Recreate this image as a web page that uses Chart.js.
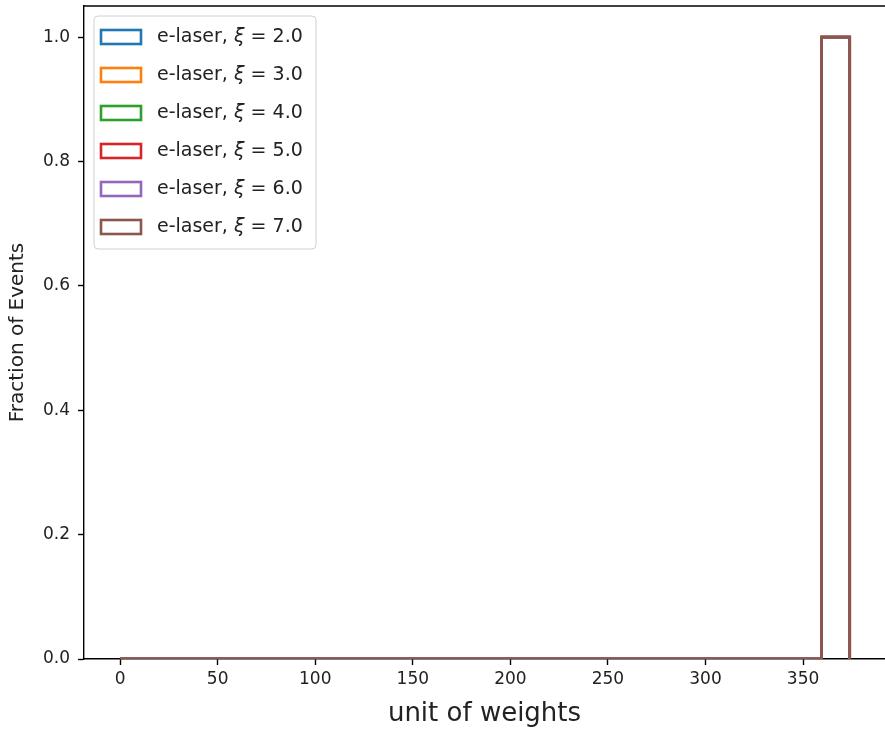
<!DOCTYPE html>
<html><head><meta charset="utf-8">
<script src="https://cdn.jsdelivr.net/npm/chart.js@4.4.0/dist/chart.umd.min.js"></script>
<style>html,body{margin:0;padding:0;background:#fff;overflow:hidden}#wrap{width:885px;height:730px;position:relative}</style>
</head><body><div id="wrap"><canvas id="c" width="885" height="730"></canvas></div>
<script>
// Histogram bin edges (unit of weights)
const binEdges = [0, 14.38, 28.76, 43.14, 57.52, 71.9, 86.28, 100.66, 115.04, 129.42, 143.8, 158.18, 172.56, 186.94, 201.32, 215.7, 230.08, 244.46, 258.84, 273.22, 287.6, 301.98, 316.36, 330.74, 345.12, 359.5, 373.88];
// Fraction of events per bin for each series
const fracXi2 = [0,0,0,0,0,0,0,0,0,0,0,0,0,0,0,0,0,0,0,0,0,0,0,0,0,1.0];
const fracXi3 = [0,0,0,0,0,0,0,0,0,0,0,0,0,0,0,0,0,0,0,0,0,0,0,0,0,1.0];
const fracXi4 = [0,0,0,0,0,0,0,0,0,0,0,0,0,0,0,0,0,0,0,0,0,0,0,0,0,1.0];
const fracXi5 = [0,0,0,0,0,0,0,0,0,0,0,0,0,0,0,0,0,0,0,0,0,0,0,0,0,1.0];
const fracXi6 = [0,0,0,0,0,0,0,0,0,0,0,0,0,0,0,0,0,0,0,0,0,0,0,0,0,1.0];
const fracXi7 = [0,0,0,0,0,0,0,0,0,0,0,0,0,0,0,0,0,0,0,0,0,0,0,0,0,1.0];
const seriesLabels = ['e-laser, ξ = 2.0','e-laser, ξ = 3.0','e-laser, ξ = 4.0','e-laser, ξ = 5.0','e-laser, ξ = 6.0','e-laser, ξ = 7.0'];
const seriesColors = ['#1f77b4','#ff7f0e','#2ca02c','#d62728','#9467bd','#8c564b'];
const xTicks = [0, 50, 100, 150, 200, 250, 300, 350];
const yTicks = [0.0, 0.2, 0.4, 0.6, 0.8, 1.0];

const allFracs = [fracXi2, fracXi3, fracXi4, fracXi5, fracXi6, fracXi7];

function stepPoints(edges, vals) {
  const pts = [{x: edges[0], y: 0}];
  for (let i = 0; i < vals.length; i++) {
    pts.push({x: edges[i], y: vals[i]});
    pts.push({x: edges[i + 1], y: vals[i]});
  }
  pts.push({x: edges[vals.length], y: 0});
  return pts;
}

const FONT = "'DejaVu Sans', sans-serif";
const TXT = '#222';

const frame = {
  id: 'frame',
  afterDraw(chart) {
    const {ctx, chartArea: a} = chart;
    ctx.save();
    ctx.strokeStyle = '#000';
    ctx.lineWidth = 1.4;
    ctx.beginPath();
    ctx.moveTo(a.left, a.top);
    ctx.lineTo(a.right, a.top);
    ctx.stroke();
    ctx.restore();
  }
};

const insideLegend = {
  id: 'insideLegend',
  afterDraw(chart) {
    const ctx = chart.ctx;
    const x0 = 94, y0 = 16, w = 222, h = 233, r = 4;
    ctx.save();
    ctx.beginPath();
    ctx.moveTo(x0 + r, y0);
    ctx.arcTo(x0 + w, y0, x0 + w, y0 + h, r);
    ctx.arcTo(x0 + w, y0 + h, x0, y0 + h, r);
    ctx.arcTo(x0, y0 + h, x0, y0, r);
    ctx.arcTo(x0, y0, x0 + w, y0, r);
    ctx.closePath();
    ctx.fillStyle = 'rgba(255,255,255,0.8)';
    ctx.fill();
    ctx.strokeStyle = '#d0d0d0';
    ctx.lineWidth = 1;
    ctx.stroke();
    chart.data.datasets.forEach((ds, i) => {
      const cy = 37 + i * 38;
      ctx.strokeStyle = ds.borderColor;
      ctx.lineWidth = 2.6;
      ctx.strokeRect(101, cy - 7, 40, 14);
      const label = ds.label;
      const k = label.indexOf('ξ');
      const pre = label.slice(0, k);
      const post = label.slice(k + 1);
      ctx.fillStyle = TXT;
      ctx.textBaseline = 'middle';
      let x = 157;
      ctx.font = '19px ' + FONT;
      ctx.fillText(pre, x, cy);
      x += ctx.measureText(pre).width;
      ctx.font = 'italic 19px ' + FONT;
      ctx.fillText('ξ', x, cy);
      x += ctx.measureText('ξ').width;
      ctx.font = '19px ' + FONT;
      ctx.fillText(post, x, cy);
    });
    ctx.restore();
  }
};

new Chart(document.getElementById('c'), {
  type: 'line',
  data: {
    datasets: allFracs.map((f, i) => ({
      label: seriesLabels[i],
      data: stepPoints(binEdges, f),
      borderColor: seriesColors[i],
      backgroundColor: seriesColors[i],
      borderWidth: 2.8,
      pointRadius: 0,
      tension: 0,
      fill: false,
      order: allFracs.length - 1 - i
    }))
  },
  options: {
    responsive: false,
    animation: false,
    layout: {padding: {top: 6, right: 0, left: 0, bottom: 0}},
    plugins: {legend: {display: false}, tooltip: {enabled: false}, title: {display: false}},
    scales: {
      x: {
        type: 'linear', min: -18.5, max: 392,
        afterBuildTicks: s => { s.ticks = xTicks.map(v => ({value: v})); },
        afterFit: s => { s.height = 71; s.paddingLeft = 0; s.paddingRight = 0; },
        ticks: {font: {family: FONT, size: 17}, color: TXT, padding: 4, maxRotation: 0, autoSkip: false, callback: v => String(v)},
        grid: {display: true, drawOnChartArea: false, drawTicks: true, tickLength: 6, tickColor: '#000', tickWidth: 1.4},
        border: {display: true, color: '#000', width: 1.4},
        title: {display: true, text: 'unit of weights', font: {family: FONT, size: 26}, color: TXT, padding: {top: 0, bottom: 0}}
      },
      y: {
        type: 'linear', min: 0, max: 1.05,
        afterBuildTicks: s => { s.ticks = yTicks.map(v => ({value: v})); },
        afterFit: s => { s.width = 84; s.paddingTop = 0; s.paddingBottom = 0; },
        ticks: {font: {family: FONT, size: 17}, color: TXT, padding: 8, callback: v => Number(v).toFixed(1)},
        grid: {display: true, drawOnChartArea: false, drawTicks: true, tickLength: 6, tickColor: '#000', tickWidth: 1.4},
        border: {display: true, color: '#000', width: 1.4},
        title: {display: true, text: 'Fraction of Events', font: {family: FONT, size: 20}, color: TXT, padding: {top: 6, bottom: 0}}
      }
    }
  },
  plugins: [frame, insideLegend]
});
</script>
</body></html>
